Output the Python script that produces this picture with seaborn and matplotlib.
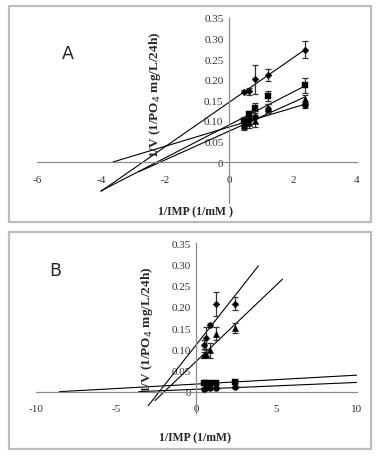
import numpy as np
import pandas as pd
import matplotlib
matplotlib.use('Agg')
import matplotlib.pyplot as plt
from matplotlib.patches import Rectangle
import seaborn as sns

# === Data: panel A ===
x_a = [0.47, 0.62, 0.80, 1.22, 2.38]
a_diamond = [0.171, 0.172, 0.201, 0.211, 0.273]
a_diamond_err = [0.003, 0.008, 0.035, 0.015, 0.021]
a_square = [0.100, 0.117, 0.131, 0.161, 0.186]
a_square_err = [0.010, 0.008, 0.012, 0.012, 0.018]
a_triangle = [0.090, 0.095, 0.100, 0.132, 0.152]
a_triangle_err = [0.010, 0.012, 0.015, 0.010, 0.012]
a_circle = [0.087, 0.103, 0.110, 0.130, 0.138]
a_circle_err = [0.008, 0.010, 0.015, 0.010, 0.006]

# trendlines (x range, slope, intercept)
a_line_x0 = [-4.0, -4.0, -2.8, -3.63]
a_line_x1 = [2.38, 2.38, 2.38, 2.38]
a_slope = [0.054, 0.040, 0.035, 0.0234]
a_icept = [0.145, 0.090, 0.075, 0.085]

# === Data: panel B ===
x_b = [0.46, 0.60, 0.83, 1.23, 2.40]
b_diamond = [0.111, 0.127, 0.157, 0.207, 0.208]
b_diamond_err = [0.010, 0.026, 0.004, 0.028, 0.015]
b_triangle = [0.086, 0.090, 0.098, 0.137, 0.150]
b_triangle_err = [0.007, 0.008, 0.018, 0.015, 0.012]
b_square = [0.020, 0.020, 0.020, 0.021, 0.024]
b_square_err = [0.002, 0.002, 0.002, 0.002, 0.003]
b_circle = [0.007, 0.008, 0.008, 0.008, 0.010]
b_circle_err = [0.001, 0.001, 0.001, 0.001, 0.002]

b_line_x0 = [-3.0, -2.58, -8.54, -3.6]
b_line_x1 = [3.87, 5.38, 10.0, 10.0]
b_slope = [0.048, 0.036, 0.0021, 0.0016]
b_icept = [0.111, 0.072, 0.018, 0.0058]

series = ['diamond', 'square', 'triangle', 'circle']
markers = {'diamond': 'D', 'square': 's', 'triangle': '^', 'circle': 'o'}
sizes = {'diamond': 12, 'square': 24, 'triangle': 20, 'circle': 18}

sns.set_style('white')
plt.rcParams['font.family'] = ['Liberation Serif', 'DejaVu Serif']

W, H = 378, 460
fig = plt.figure(figsize=(W / 100, H / 100), dpi=100)

# panel frames
for (x0, y0, x1, y1) in [(9, 7, 371, 223), (9, 233, 371, 450)]:
    fig.patches.append(Rectangle((x0 / W, 1 - y1 / H), (x1 - x0) / W, (y1 - y0) / H,
                                 transform=fig.transFigure, fill=False,
                                 edgecolor='#bdbdbd', lw=1.6))


def panel(ax, x, ys, errs, lx0, lx1, slopes, icepts, xlim, ylim, xticks):
    for name, y, e in zip(series, ys, errs):
        ax.errorbar(x, y, yerr=e, fmt='none', ecolor='#333333', elinewidth=0.9,
                    capsize=2, capthick=0.9, zorder=3)
    df = pd.DataFrame({'x': np.tile(x, 4),
                       'y': np.concatenate(ys),
                       's': np.repeat(series, len(x))})
    for name in series:
        sub = df[df.s == name]
        sns.scatterplot(data=sub, x='x', y='y', marker=markers[name], s=sizes[name],
                        color='black', edgecolor='black', linewidth=0.3, ax=ax, zorder=4)
    for a, b, m, c in zip(lx0, lx1, slopes, icepts):
        xs = np.array([a, b])
        ax.plot(xs, c + m * xs, color='black', lw=0.8, zorder=2)

    ax.set_xlim(*xlim)
    ax.set_ylim(*ylim)
    ax.spines['left'].set_position(('data', 0))
    ax.spines['bottom'].set_position(('data', 0))
    for s in ['top', 'right']:
        ax.spines[s].set_visible(False)
    for s in ['left', 'bottom']:
        ax.spines[s].set_color('#8c8c8c')
        ax.spines[s].set_linewidth(0.9)
    ax.set_xticks(xticks)
    ax.set_xticklabels([f'{t:g}' for t in xticks])
    yt = np.round(np.arange(ylim[0], 0.351, 0.05), 2)
    ax.set_yticks(yt)
    ax.set_yticklabels(['' if v < 0 else ('0' if v == 0 else f'{v:.2f}') for v in yt])
    ax.tick_params(direction='inout', length=4, width=0.8, color='#8c8c8c',
                   labelsize=8, pad=2, colors='#333333')
    ax.tick_params(axis='x', pad=7)
    ax.set_xlabel('')
    ax.set_ylabel('')
    return ax


ax1 = fig.add_axes([37 / W, 1 - 204.2 / H, 320 / W, 185.2 / H])
panel(ax1, x_a, [a_diamond, a_square, a_triangle, a_circle],
      [a_diamond_err, a_square_err, a_triangle_err, a_circle_err],
      a_line_x0, a_line_x1, a_slope, a_icept,
      (-6, 4), (-0.1, 0.35), [-6, -4, -2, 0, 2, 4])

ax2 = fig.add_axes([36 / W, 1 - 413.9 / H, 320.7 / W, 169.6 / H])
panel(ax2, x_b, [b_diamond, b_square, b_triangle, b_circle],
      [b_diamond_err, b_square_err, b_triangle_err, b_circle_err],
      b_line_x0, b_line_x1, b_slope, b_icept,
      (-10, 10), (-0.05, 0.35), [-10, -5, 0, 5, 10])

fig.text(68 / W, 1 - 54 / H, 'A', fontsize=12.5, family='DejaVu Sans',
         ha='center', va='center')
fig.text(55 / W, 1 - 271 / H, 'B', fontsize=12.5, family='DejaVu Sans',
         ha='center', va='center')

ylab = '1/V (1/PO$_4$ mg/L/24h)'
fig.text(155 / W, 1 - 95 / H, ylab, rotation=90, ha='center', va='center',
         fontsize=9.5, fontweight='bold')
fig.text(147 / W, 1 - 330 / H, ylab, rotation=90, ha='center', va='center',
         fontsize=9.5, fontweight='bold')
fig.text(195 / W, 1 - 212 / H, '1/IMP (1/mM )', ha='center', va='center',
         fontsize=8.5, fontweight='bold')
fig.text(195 / W, 1 - 438 / H, '1/IMP (1/mM)', ha='center', va='center',
         fontsize=8.5, fontweight='bold')

fig.savefig('out.png', dpi=100, facecolor='white')
